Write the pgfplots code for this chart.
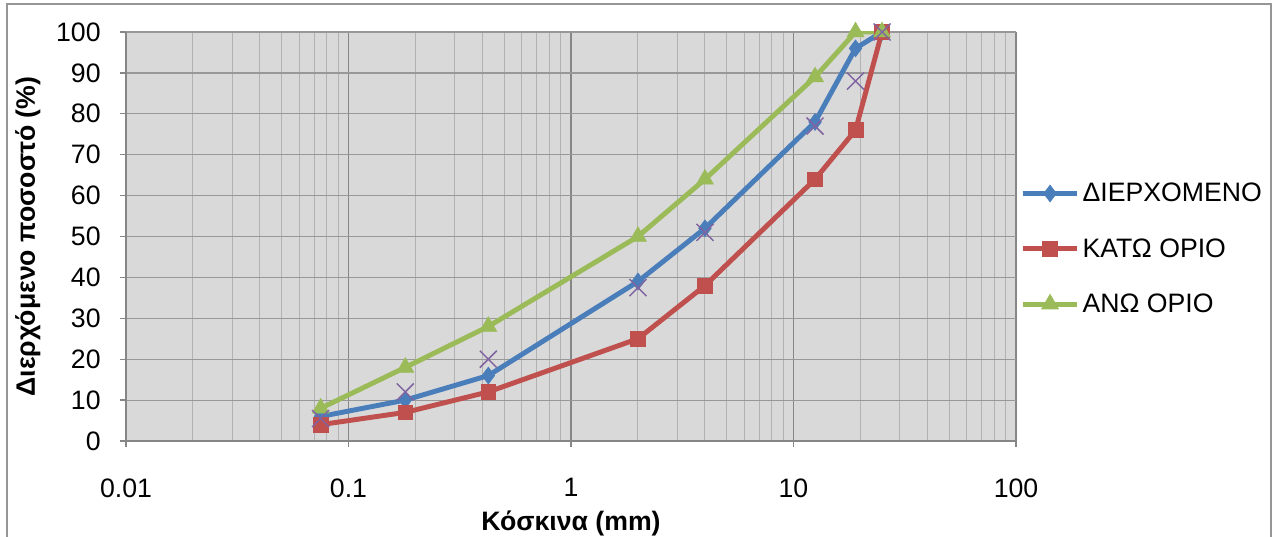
\documentclass[border=0pt]{standalone}
\usepackage{pgfplots}
\pgfplotsset{compat=1.18}
\usepackage{fontspec}
\setmainfont{Liberation Sans}

\definecolor{seriesblue}{RGB}{74,126,187}
\definecolor{seriesred}{RGB}{192,80,77}
\definecolor{seriesgreen}{RGB}{155,187,89}
\definecolor{seriespurple}{RGB}{128,100,162}
\definecolor{plotbg}{RGB}{217,217,217}
\definecolor{majorgrid}{RGB}{134,134,134}
\definecolor{minorgrid}{RGB}{178,178,178}
\definecolor{framegray}{RGB}{150,150,150}

\begin{document}
\begin{tikzpicture}[x=0.75pt,y=0.75pt]
% page extent and outer chart frame (1 unit = 1 px)
\useasboundingbox (-126,-95) rectangle (1151,441);
\draw[framegray,line width=1.5] (-119,-100) -- (-119,437) -- (1145,437) -- (1145,-100);
\begin{axis}[
  at={(0,0)}, anchor=south west,
  scale only axis,
  width=667.5pt, height=306.75pt,
  xmode=log,
  xmin=0.01, xmax=100,
  ymin=0, ymax=100,
  xtick={0.01,0.1,1,10,100},
  xticklabels={0.01,0.1,1,10,100},
  ytick={0,10,...,100},
  minor xtick={0.02,0.03,0.04,0.05,0.06,0.07,0.08,0.09,
               0.2,0.3,0.4,0.5,0.6,0.7,0.8,0.9,
               2,3,4,5,6,7,8,9,
               20,30,40,50,60,70,80,90},
  xmajorgrids, xminorgrids, ymajorgrids,
  major x grid style={majorgrid,line width=0.9pt},
  minor x grid style={minorgrid,line width=0.75pt},
  major y grid style={majorgrid!85,line width=0.9pt},
  axis background/.style={fill=plotbg},
  axis x line*=bottom, axis y line*=left,
  axis line style={majorgrid,line width=1.2pt,-},
  tick align=outside,
  major tick length=4.5pt,
  minor tick length=0pt,
  tick style={majorgrid,line width=1pt},
  xticklabel style={font=\fontsize{20}{22}\selectfont, yshift=-20pt},
  yticklabel style={font=\fontsize{20}{22}\selectfont, xshift=-11pt},
  /pgf/number format/assume math mode=true,
  xlabel={\textbf{Κόσκινα (mm)}},
  ylabel={\textbf{Διερχόμενο ποσοστό (\%)}},
  label style={font=\fontsize{20}{22}\selectfont},
  xlabel style={yshift=-3pt},
  ylabel style={yshift=5pt},
  legend style={
    at={(1.0,0.47)}, anchor=west,
    draw=none, fill=none,
    font=\fontsize{20}{22}\selectfont,
    row sep=22pt,
    /tikz/every even column/.append style={column sep=0pt},
  },
  legend cell align=left,
  legend image code/.code={%
    \draw[mark repeat=2,mark phase=2]
      plot coordinates {(0pt,0pt) (20.5pt,0pt) (41pt,0pt)};},
]
% passing percentage
\addplot[seriesblue, line width=3.7pt, mark=diamond*, mark size=6.3pt,
  mark options={solid,line width=0.5pt,fill=seriesblue}]
  coordinates {(0.075,6) (0.18,10) (0.425,16) (2,39) (4,52) (12.5,78) (19,96) (25,100)};
\addlegendentry{ΔΙΕΡΧΟΜΕΝΟ}
% lower limit
\addplot[seriesred, line width=3.7pt, mark=square*, mark size=5.5pt,
  mark options={solid,line width=0.5pt,fill=seriesred}]
  coordinates {(0.075,4) (0.18,7) (0.425,12) (2,25) (4,38) (12.5,64) (19,76) (25,100)};
\addlegendentry{ΚΑΤΩ ΟΡΙΟ}
% upper limit
\addplot[seriesgreen, line width=3.7pt, mark=triangle*, mark size=7.3pt,
  mark options={solid,line width=0.5pt,fill=seriesgreen}]
  coordinates {(0.075,8) (0.18,18) (0.425,28) (2,50) (4,64) (12.5,89) (19,100) (25,100)};
\addlegendentry{ΑΝΩ ΟΡΙΟ}
% measured points, marks only
\addplot[seriespurple, only marks, mark=x, mark size=9pt,
  mark options={line width=1.1pt}, forget plot]
  coordinates {(0.075,5.5) (0.18,12) (0.425,20) (2,37.5) (4,51) (12.5,77) (19,88) (25,100)};
\end{axis}
\end{tikzpicture}
\end{document}
